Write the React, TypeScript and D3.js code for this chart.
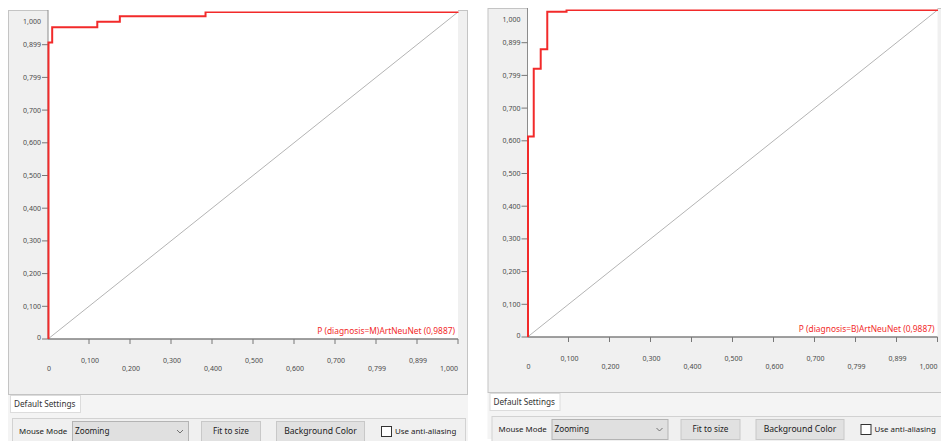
import React from 'react';
import * as d3 from 'd3';

// Axis ticks (both panels use the same ones)
const tickValues = [0, 0.1, 0.2, 0.3, 0.4, 0.5, 0.6, 0.7, 0.8, 0.9, 1];
const tickLabels = ["0", "0,100", "0,200", "0,300", "0,400", "0,500", "0,600", "0,700", "0,799", "0,899", "1,000"];

// ROC curve for diagnosis = M
const fprM = [0, 0, 0.009, 0.119, 0.174, 0.383, 1];
const tprM = [0, 0.907, 0.953, 0.970, 0.987, 1, 1];
const legendM = "P (diagnosis=M)ArtNeuNet (0,9887)";

// ROC curve for diagnosis = B
const fprB = [0, 0, 0.014, 0.031, 0.047, 0.094, 1];
const tprB = [0, 0.613, 0.82, 0.88, 0.995, 1, 1];
const legendB = "P (diagnosis=B)ArtNeuNet (0,9887)";

const controlLabels = ["Mouse Mode", "Zooming", "Fit to size", "Background Color", "Use anti-aliasing"];
const tabLabel = "Default Settings";

const FONT = "'Noto Sans', 'DejaVu Sans', sans-serif";

type PanelProps = { id: string; fpr: number[]; tpr: number[]; legend: string; dx: number; dy: number };

const RocPanel = ({ id, fpr, tpr, legend, dx, dy }: PanelProps) => {
    // plot box inside the panel
    const left = 48, right = 458, top = 12, bottom = 339;
    const x = d3.scaleLinear().domain([0, 1]).range([left, right]);
    const y = d3.scaleLinear().domain([0, 1]).range([bottom, top]);

    const points: [number, number][] = fpr.map((f, i) => [f, tpr[i]]);
    const line = d3.line<[number, number]>()
        .x(d => x(d[0]) + 0.5)
        .y(d => y(d[1]))
        .curve(d3.curveStepAfter);

    return (
        <g transform={`translate(${dx},${dy})`} fontFamily={FONT}>
            <defs>
                <clipPath id={id}>
                    <rect x={left - 2} y={top - 0.5} width={right - left + 4} height={bottom - top + 2} />
                </clipPath>
            </defs>
            {/* panel frame */}
            <rect x={8.5} y={10.5} width={459} height={384} fill="#f0f0f0" stroke="#c4c4c4" />
            <rect x={left} y={10} width={right - left} height={bottom - 10} fill="#ffffff" />

            {/* diagonal reference */}
            <line x1={x(0)} y1={y(0)} x2={x(1)} y2={y(1)} stroke="#b4b4b4" strokeWidth={1} />

            {/* y axis */}
            <line x1={left} y1={10} x2={left} y2={bottom} stroke="#8c8c8c" strokeWidth={1} />
            {tickValues.map((v, i) => (
                <g key={'y' + i}>
                    {i < tickValues.length - 1 &&
                        <line x1={left - 6} y1={y(v)} x2={left} y2={y(v)} stroke="#777" strokeWidth={1} />}
                    <text x={left - 7} y={Math.min(Math.max(y(v), top + 9), bottom - 2) + 2.5}
                        fontSize={7} fill="#4a4a4a" textAnchor="end">{tickLabels[i]}</text>
                </g>
            ))}

            {/* x axis */}
            <line x1={left} y1={bottom} x2={right} y2={bottom} stroke="#808080" strokeWidth={1.6} />
            {tickValues.map((v, i) => (
                <g key={'x' + i}>
                    {i > 0 && <line x1={x(v)} y1={bottom} x2={x(v)} y2={bottom + 5} stroke="#777" strokeWidth={1} />}
                    <text x={i === tickValues.length - 1 ? x(v) : x(v) + 1}
                        y={bottom + (i % 2 === 1 ? 23.5 : 31.5)}
                        fontSize={7} fill="#4a4a4a"
                        textAnchor={i === tickValues.length - 1 ? "end" : "middle"}>{tickLabels[i]}</text>
                </g>
            ))}

            {/* ROC curve */}
            <path d={line(points) || ''} fill="none" stroke="#f22a2a" strokeWidth={2} clipPath={`url(#${id})`} />
            <text x={right - 3} y={bottom - 5} fontSize={8.4} fill="#f22a2a" textAnchor="end">{legend}</text>

            {/* settings tab */}
            <rect x={8} y={395} width={460} height={46} fill="#f4f4f4" />
            <rect x={10.5} y={395.5} width={70} height={17} fill="#ffffff" stroke="#dcdcdc" />
            <text x={14} y={406.5} fontSize={8.2} fill="#333">{tabLabel}</text>

            {/* control bar */}
            <rect x={12.5} y={418.5} width={453} height={30} fill="#f0f0f0" stroke="#d2d2d2" />
            <text x={19} y={433.5} fontSize={7.9} fill="#222">{controlLabels[0]}</text>
            <rect x={72.5} y={421.5} width={116} height={20} fill="#e0e0e0" stroke="#b4b4b4" />
            <text x={75} y={433.5} fontSize={8.2} fill="#222">{controlLabels[1]}</text>
            <path d="M177,430 l3,3 l3,-3" fill="none" stroke="#555" strokeWidth={0.8} />
            <rect x={201.5} y={421.5} width={59} height={20} fill="#e1e1e1" stroke="#c8c8c8" />
            <text x={231} y={433.5} fontSize={8.2} fill="#222" textAnchor="middle">{controlLabels[2]}</text>
            <rect x={276.5} y={421.5} width={88} height={20} fill="#e1e1e1" stroke="#c8c8c8" />
            <text x={320.5} y={433.5} fontSize={8.6} fill="#222" textAnchor="middle">{controlLabels[3]}</text>
            <rect x={381.5} y={426.5} width={10} height={10} fill="#ffffff" stroke="#333" />
            <text x={395} y={434} fontSize={7.9} fill="#222">{controlLabels[4]}</text>
        </g>
    );
};

const App = () => {
    return (
        <svg width={941} height={441} style={{ position: 'absolute', left: 0, top: 0, background: '#fff' }}>
            <RocPanel id="clipM" fpr={fprM} tpr={tprM} legend={legendM} dx={0} dy={0} />
            <RocPanel id="clipB" fpr={fprB} tpr={tprB} legend={legendB} dx={479.5} dy={-2} />
        </svg>
    );
};

export default App;
